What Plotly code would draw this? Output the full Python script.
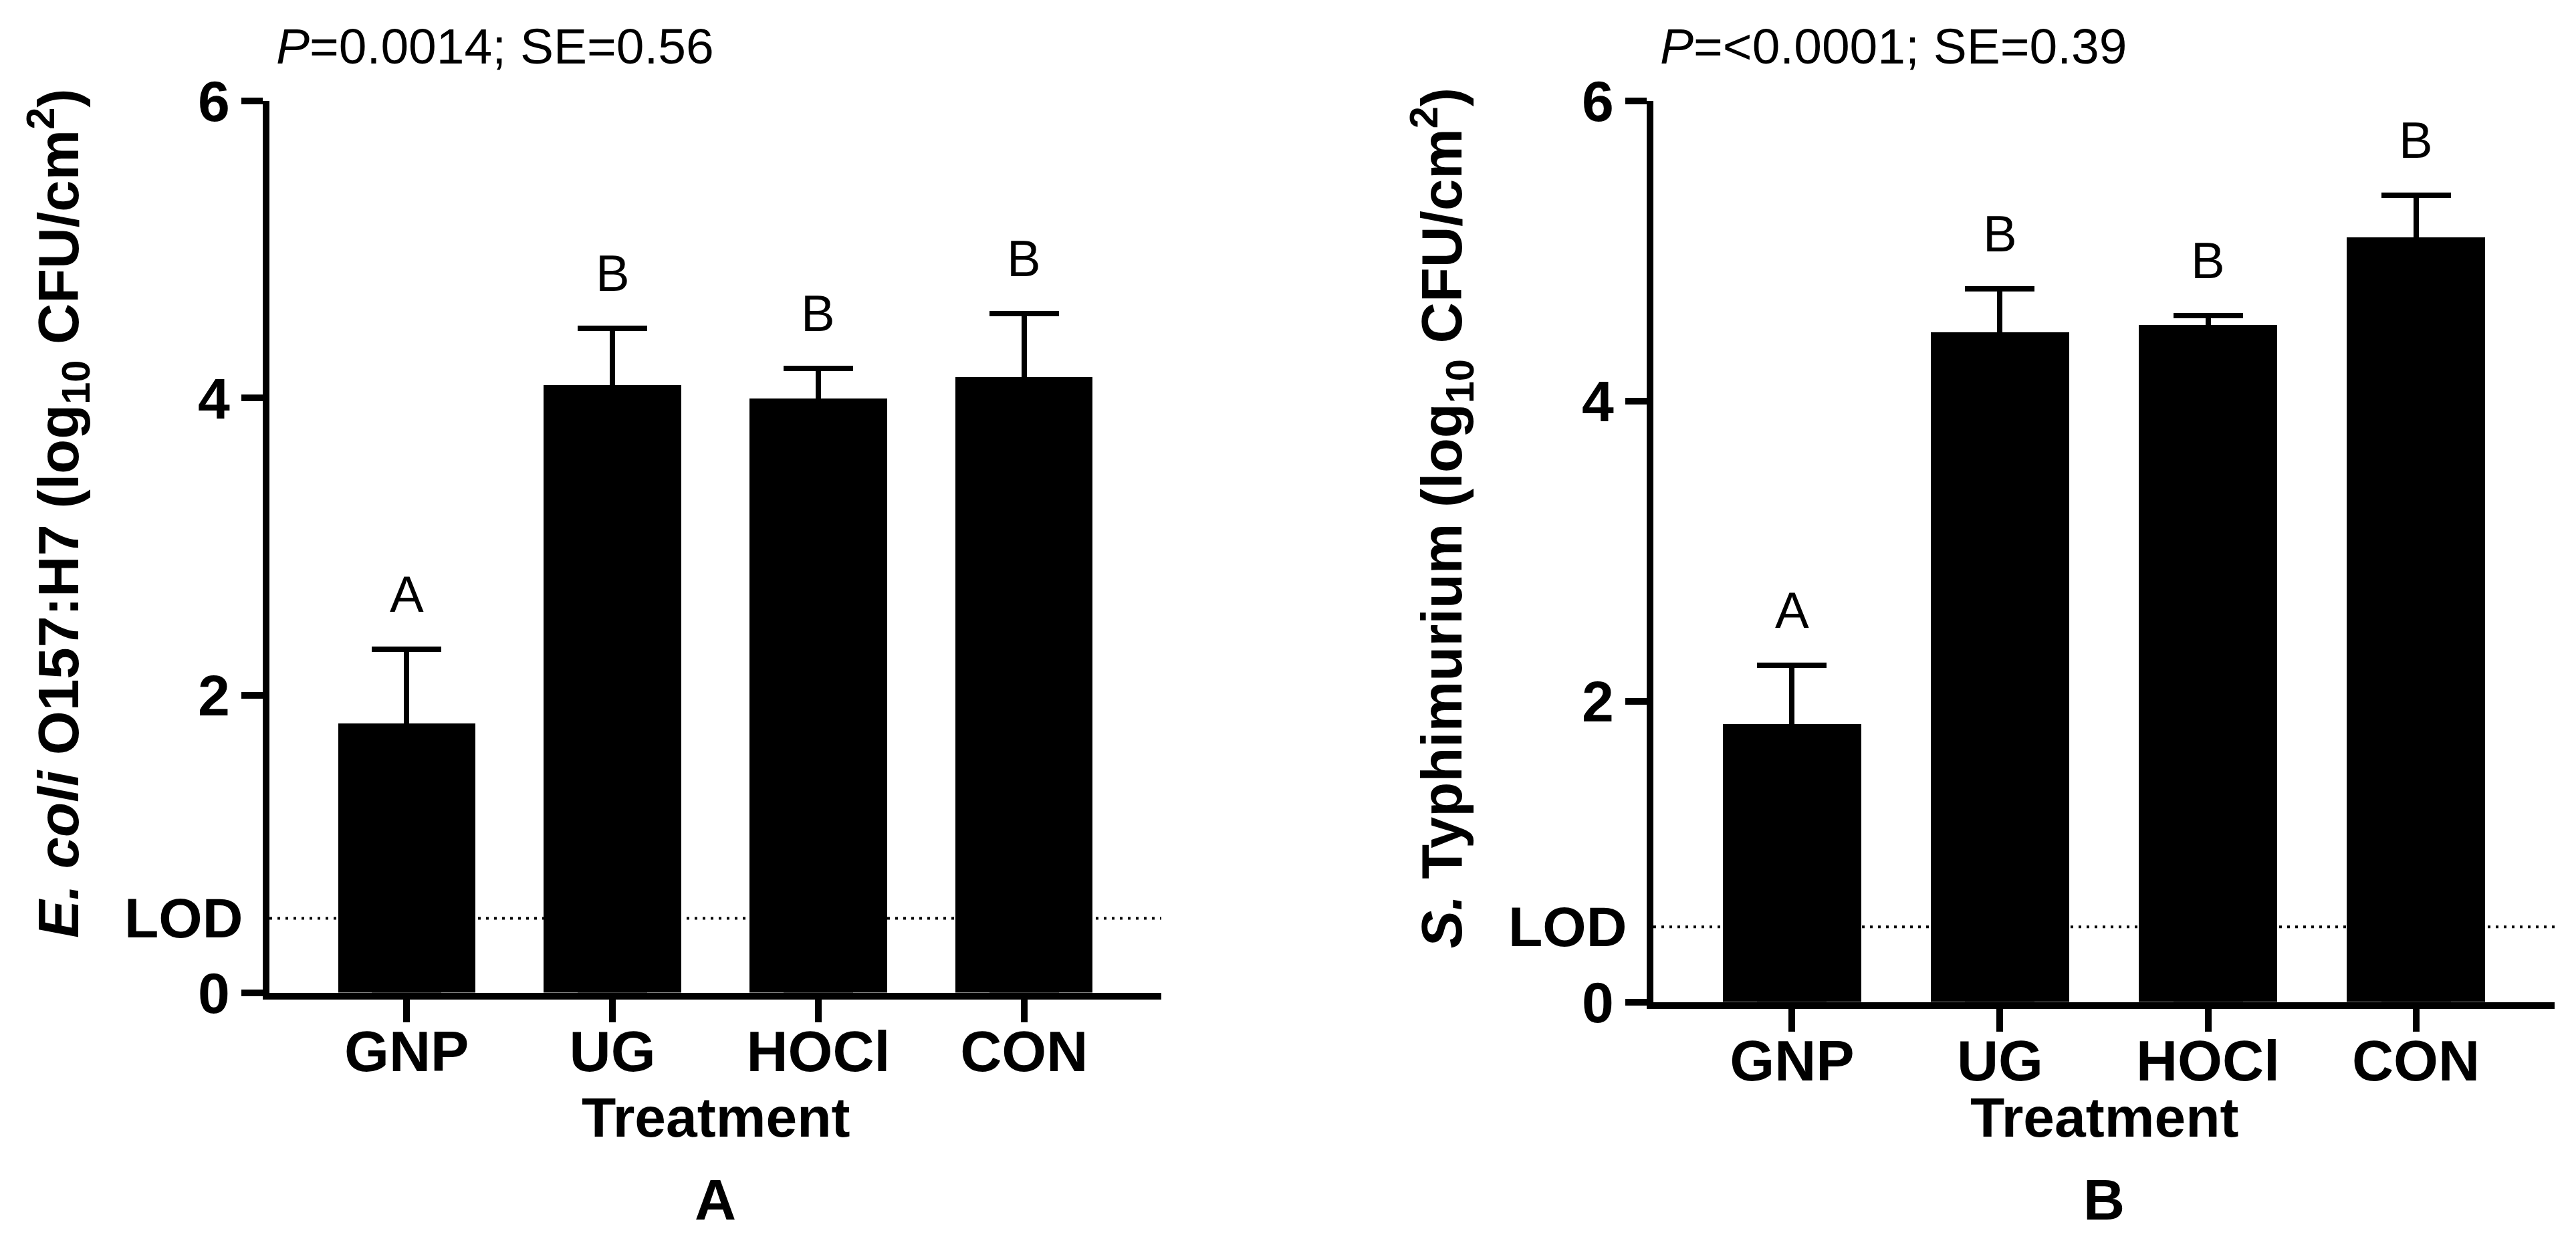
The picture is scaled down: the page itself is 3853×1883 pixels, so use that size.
import plotly.graph_objects as go

# canvas size (px) of the reference
W, H = 3853, 1883

treatments = ["GNP", "UG", "HOCl", "CON"]

# panel A: E. coli O157:H7
ecoli_mean = [1.81, 4.09, 4.00, 4.14]
ecoli_se = [0.50, 0.38, 0.20, 0.43]
ecoli_letters = ["A", "B", "B", "B"]
ecoli_stats = "<i>P</i>=0.0014; SE=0.56"

# panel B: S. Typhimurium
salm_mean = [1.85, 4.46, 4.51, 5.09]
salm_se = [0.39, 0.29, 0.06, 0.28]
salm_letters = ["A", "B", "B", "B"]
salm_stats = "<i>P</i>=&lt;0.0001; SE=0.39"

lod = 0.5
y_ticks = [0, 2, 4, 6]

FONT = "Liberation Sans, Arial, sans-serif"

# the photographed page comes out a little squeezed vertically; undo it
SQ, OFF = 0.95, 57


def px_x(v):
    return v / W


def px_y(v):
    return 1 - ((v - OFF) / SQ) / H


fig = go.Figure()

panels = [
    dict(mean=ecoli_mean, se=ecoli_se, letters=ecoli_letters, stats=ecoli_stats,
         ytitle="<i>E. coli</i> O157:H7 (log<sub>10</sub> CFU/cm<sup>2</sup>)",
         label="A", x0=395, x1=1729, y0=1487, y1=152, ytx=79, yty=1408),
    dict(mean=salm_mean, se=salm_se, letters=salm_letters, stats=salm_stats,
         ytitle="<i>S.</i> Typhimurium (log<sub>10</sub> CFU/cm<sup>2</sup>)",
         label="B", x0=2465, x1=3813, y0=1501, y1=152, ytx=2149, yty=1423),
]

annotations = []
shapes = []
for i, p in enumerate(panels, start=1):
    xa = "x" if i == 1 else f"x{i}"
    ya = "y" if i == 1 else f"y{i}"
    # error bars only go up; the lower arm is hidden inside the black bar
    fig.add_trace(go.Bar(
        x=treatments, y=p["mean"], xaxis=xa, yaxis=ya, width=0.667,
        marker=dict(color="black", line=dict(width=0)),
        error_y=dict(type="data", symmetric=False, array=p["se"],
                     arrayminus=p["mean"], color="black",
                     thickness=8, width=52),
        showlegend=False, hoverinfo="skip",
    ))
    ax = dict(
        domain=[px_x(p["x0"]), px_x(p["x1"])], anchor=ya,
        type="category", range=[-0.667, len(treatments) - 0.333],
        showline=True, linecolor="black", linewidth=10,
        ticks="outside", ticklen=34, tickwidth=10, tickcolor="black",
        ticklabelstandoff=-30,
        tickfont=dict(family=FONT, size=86, color="black", weight="bold"),
        showgrid=False, zeroline=False, fixedrange=True,
    )
    ay = dict(
        domain=[px_y(p["y0"]), px_y(p["y1"])], anchor=xa,
        range=[0, 6], tickvals=y_ticks,
        showline=True, linecolor="black", linewidth=10,
        ticks="outside", ticklen=32, tickwidth=10, tickcolor="black",
        tickfont=dict(family=FONT, size=86, color="black", weight="bold"),
        showgrid=False, zeroline=False, fixedrange=True,
    )
    fig.update_layout(**{("xaxis" if i == 1 else f"xaxis{i}"): ax,
                         ("yaxis" if i == 1 else f"yaxis{i}"): ay})

    # limit of detection line
    shapes.append(dict(type="line", xref=f"{xa} domain", yref=ya,
                       x0=0, x1=1, y0=lod, y1=lod, layer="below",
                       line=dict(color="black", width=4, dash="4px,8px")))
    annotations.append(dict(text="LOD", xref="paper", yref=ya,
                            x=px_x(p["x0"] - 38), y=lod, xanchor="right", yanchor="middle",
                            showarrow=False,
                            font=dict(family=FONT, size=84, color="black", weight="bold")))

    # significance letters above error bars
    for t, m, s, letter in zip(treatments, p["mean"], p["se"], p["letters"]):
        annotations.append(dict(text=letter, xref=xa, yref=ya, x=t, y=m + s,
                                xanchor="center", yanchor="bottom", yshift=38,
                                showarrow=False,
                                font=dict(family=FONT, size=76, color="black")))

    # stats line on top
    annotations.append(dict(text=p["stats"], xref="paper", yref="paper",
                            x=px_x(p["x0"] + 8), y=px_y(70), xanchor="left", yanchor="middle",
                            showarrow=False,
                            font=dict(family=FONT, size=75, color="black")))

    cx = px_x((p["x0"] + p["x1"]) / 2)
    annotations.append(dict(text="Treatment", xref="paper", yref="paper",
                            x=cx, y=px_y(1674), xanchor="center", yanchor="middle",
                            showarrow=False,
                            font=dict(family=FONT, size=84, color="black", weight="bold")))
    annotations.append(dict(text=p["label"], xref="paper", yref="paper",
                            x=cx, y=px_y(1797), xanchor="center", yanchor="middle",
                            showarrow=False,
                            font=dict(family=FONT, size=86, color="black", weight="bold")))

    # y axis title
    annotations.append(dict(text=p["ytitle"], xref="paper", yref="paper",
                            x=px_x(p["ytx"]), y=px_y(p["yty"]), xanchor="center",
                            yanchor="bottom", textangle=-90, showarrow=False,
                            font=dict(family=FONT, size=85, color="black", weight="bold")))

fig.update_layout(
    width=W, height=H,
    margin=dict(l=0, r=0, t=0, b=0),
    paper_bgcolor="white", plot_bgcolor="white",
    bargap=0,
    annotations=annotations, shapes=shapes,
)

fig.write_html("out.html")
